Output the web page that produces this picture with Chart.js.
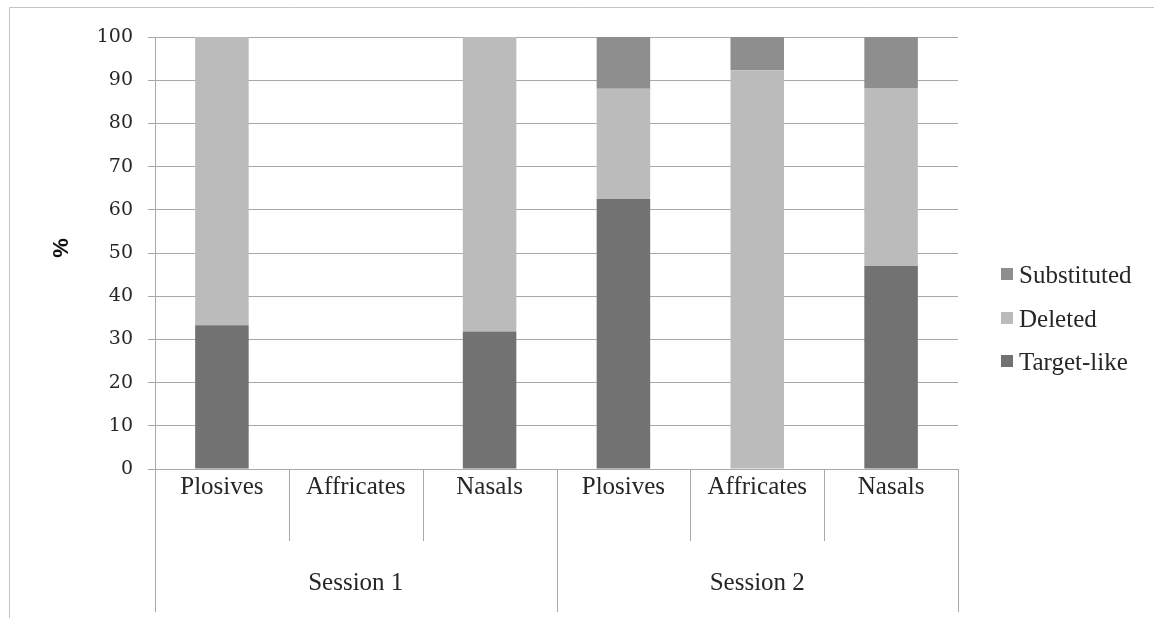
<!DOCTYPE html>
<html>
<head>
<meta charset="utf-8">
<script src="https://cdn.jsdelivr.net/npm/chart.js@4"></script>
<style>
  html, body { margin: 0; padding: 0; background: #ffffff; }
  #wrap { width: 1154px; height: 618px; }
</style>
</head>
<body>
<div id="wrap"><canvas id="chart" width="1154" height="618"></canvas></div>
<script>
// Sound classes per session
const categories = ['Plosives', 'Affricates', 'Nasals', 'Plosives', 'Affricates', 'Nasals'];
const sessions = ['Session 1', 'Session 2'];
const perSession = 3;

// Percentages of each outcome
const targetLike  = [33.3, 0, 31.8, 62.5, 0, 47.0];
const deleted     = [66.7, 0, 68.2, 25.5, 92.3, 41.2];
const substituted = [0, 0, 0, 12.0, 7.7, 11.8];

const yTicks = [0, 10, 20, 30, 40, 50, 60, 70, 80, 90, 100];

const SERIF = '"Liberation Serif", "Times New Roman", serif';
const TEXT = '#262626';
const LINE = '#a8a8a8';

const frame = {
  id: 'frame',
  beforeDraw(chart) {
    const ctx = chart.ctx;
    ctx.save();
    ctx.fillStyle = '#ffffff';
    ctx.fillRect(0, 0, chart.width, chart.height);
    ctx.strokeStyle = '#c4c4c4';
    ctx.lineWidth = 1;
    ctx.beginPath();
    ctx.moveTo(9.5, chart.height);
    ctx.lineTo(9.5, 7.5);
    ctx.lineTo(chart.width, 7.5);
    ctx.stroke();
    ctx.restore();
  },
  afterDraw(chart) {
    const ctx = chart.ctx;
    const x = chart.scales.x;
    const area = chart.chartArea;
    const n = categories.length;
    ctx.save();
    // category separators, long ones between sessions
    ctx.strokeStyle = LINE;
    ctx.lineWidth = 1;
    for (let i = 0; i <= n; i++) {
      let px;
      if (i === 0) px = x.left;
      else if (i === n) px = x.right;
      else px = (x.getPixelForValue(i - 1) + x.getPixelForValue(i)) / 2;
      px = Math.round(px) + 0.5;
      const long = i % perSession === 0;
      ctx.beginPath();
      ctx.moveTo(px, i === 0 ? area.top : area.bottom);
      ctx.lineTo(px, long ? 612 : 541);
      ctx.stroke();
    }
    // session labels
    ctx.fillStyle = TEXT;
    ctx.font = '25px ' + SERIF;
    ctx.textAlign = 'center';
    ctx.textBaseline = 'middle';
    sessions.forEach((s, k) => {
      const a = x.getPixelForValue(k * perSession);
      const b = x.getPixelForValue(k * perSession + perSession - 1);
      ctx.fillText(s, (a + b) / 2, 583);
    });
    // axis title
    ctx.save();
    ctx.translate(62, 248);
    ctx.rotate(-Math.PI / 2);
    ctx.fillStyle = '#111111';
    ctx.font = 'bold 22px "Liberation Sans", Arial, sans-serif';
    ctx.fillText('%', 0, 0);
    ctx.restore();
    // legend, top to bottom in reverse stacking order
    const items = chart.data.datasets.slice().reverse();
    const rows = [274, 318, 361];
    ctx.textAlign = 'left';
    ctx.font = '25px ' + SERIF;
    items.forEach((ds, k) => {
      ctx.fillStyle = ds.backgroundColor;
      ctx.fillRect(1001, rows[k] - 6, 12, 12);
      ctx.fillStyle = TEXT;
      ctx.fillText(ds.label, 1019, rows[k] + 2);
    });
    ctx.restore();
  }
};

new Chart(document.getElementById('chart'), {
  type: 'bar',
  data: {
    labels: categories,
    datasets: [
      { label: 'Target-like', data: targetLike, backgroundColor: '#727272' },
      { label: 'Deleted', data: deleted, backgroundColor: '#bbbbbb' },
      { label: 'Substituted', data: substituted, backgroundColor: '#8e8e8e' }
    ]
  },
  options: {
    responsive: false,
    animation: false,
    devicePixelRatio: 1,
    layout: { padding: { left: 0, top: 37, right: 196, bottom: 0 } },
    datasets: { bar: { barPercentage: 0.4, categoryPercentage: 1, borderWidth: 0 } },
    plugins: { legend: { display: false }, tooltip: { enabled: false } },
    scales: {
      x: {
        stacked: true,
        grid: { display: false, drawTicks: false },
        border: { display: false },
        ticks: {
          color: TEXT,
          font: { family: SERIF, size: 25 },
          padding: 3,
          maxRotation: 0,
          autoSkip: false
        },
        afterFit(scale) { scale.height = 149; }
      },
      y: {
        stacked: true,
        min: 0,
        max: 100,
        afterBuildTicks(scale) { scale.ticks = yTicks.map(v => ({ value: v })); },
        grid: { color: LINE, lineWidth: 1, tickLength: 7, drawTicks: true },
        border: { display: true, color: LINE },
        ticks: {
          color: TEXT,
          font: { family: '"DejaVu Serif", serif', size: 19 },
          padding: 15
        },
        afterFit(scale) { scale.width = 155; }
      }
    }
  },
  plugins: [frame]
});
</script>
</body>
</html>
